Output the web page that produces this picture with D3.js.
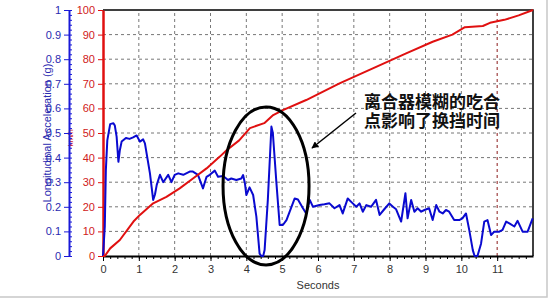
<!DOCTYPE html>
<html>
<head>
<meta charset="utf-8">
<script src="https://cdn.jsdelivr.net/npm/d3@7"></script>
<style>
  body { margin: 0; background: #fff; }
  svg { display: block; font-family: "Liberation Sans", Arial, sans-serif; }
</style>
</head>
<body>
<div id="chart"></div>
<script>
// speed (km/h) over time (s)
const speedT   = [0, 0.05, 0.2, 0.47, 0.85, 1.03, 1.4, 1.77, 2.14, 2.52, 2.89, 3.26, 3.45, 3.8, 4.1, 4.5, 4.75, 5.02, 5.67, 6.6, 7.53, 8.46, 9.2, 9.75, 10.1, 10.6, 10.8, 11.2, 11.6, 12];
const speedKmh = [0, 0, 3.1, 6.5, 14, 16.7, 21.4, 24, 27.5, 31.6, 35.6, 40.4, 43, 47, 52, 54, 57.3, 59.3, 63.4, 70.2, 76.3, 82.4, 87.1, 90, 93, 93.5, 94.8, 96, 97.8, 100];

// longitudinal acceleration (g) over time (s)
const accT = [0, 0.05, 0.08, 0.12, 0.2, 0.29, 0.33, 0.38, 0.43, 0.47, 0.52, 0.64, 0.74, 0.84, 0.94, 1.03, 1.12, 1.17, 1.31, 1.4, 1.45, 1.5, 1.59, 1.68, 1.82, 1.91, 2.0, 2.1, 2.24, 2.42, 2.51, 2.65, 2.79, 2.89, 2.98, 3.12, 3.21, 3.35, 3.49, 3.58, 3.72, 3.86, 3.91, 3.96, 4.0, 4.09, 4.19, 4.28, 4.37, 4.42, 4.47, 4.51, 4.6, 4.7, 4.74, 4.84, 4.93, 5.02, 5.12, 5.26, 5.35, 5.44, 5.58, 5.67, 5.77, 5.86, 6.04, 6.18, 6.32, 6.46, 6.6, 6.69, 6.83, 6.97, 7.07, 7.16, 7.25, 7.35, 7.48, 7.62, 7.72, 7.85, 7.99, 8.09, 8.18, 8.32, 8.44, 8.5, 8.6, 8.69, 8.78, 8.88, 8.97, 9.1, 9.2, 9.3, 9.39, 9.48, 9.57, 9.66, 9.8, 9.94, 10.03, 10.13, 10.22, 10.32, 10.37, 10.45, 10.55, 10.64, 10.73, 10.83, 10.92, 11.06, 11.15, 11.25, 11.34, 11.48, 11.57, 11.71, 11.85, 11.99];
const accG = [0, 0.12, 0.35, 0.47, 0.536, 0.54, 0.53, 0.485, 0.383, 0.43, 0.465, 0.48, 0.476, 0.482, 0.49, 0.465, 0.474, 0.458, 0.336, 0.228, 0.25, 0.289, 0.33, 0.3, 0.33, 0.3, 0.33, 0.336, 0.33, 0.343, 0.343, 0.33, 0.275, 0.322, 0.33, 0.347, 0.322, 0.325, 0.309, 0.315, 0.309, 0.315, 0.329, 0.296, 0.248, 0.279, 0.248, 0.16, 0.01, 0, 0, 0.024, 0.228, 0.526, 0.5, 0.296, 0.126, 0.126, 0.146, 0.2, 0.234, 0.23, 0.194, 0.173, 0.228, 0.2, 0.207, 0.21, 0.214, 0.194, 0.207, 0.173, 0.234, 0.214, 0.2, 0.214, 0.18, 0.207, 0.2, 0.228, 0.167, 0.19, 0.214, 0.2, 0.19, 0.14, 0.255, 0.153, 0.228, 0.18, 0.194, 0.18, 0.187, 0.194, 0.146, 0.207, 0.18, 0.173, 0.187, 0.18, 0.146, 0.146, 0.153, 0.173, 0.106, 0.024, 0, 0, 0.05, 0.14, 0.146, 0.085, 0.099, 0.099, 0.106, 0.14, 0.133, 0.12, 0.143, 0.099, 0.099, 0.153];

const xTicks = d3.range(0, 12, 1);
const speedTicks = d3.range(0, 101, 10);
const accTicks = d3.range(0, 11).map(d => d / 10);

const noteLines = ["离合器模糊的吃合", "点影响了换挡时间"];

const width = 550, height = 300;
const margin = { top: 10, right: 17, bottom: 44, left: 103 };
const innerWidth = width - margin.left - margin.right;
const innerHeight = height - margin.top - margin.bottom;

const svg = d3.select("#chart")
  .append("svg")
    .attr("width", width)
    .attr("height", height);

// outer frame
svg.append("path")
  .attr("d", `M547,0V297H0`)
  .attr("fill", "none")
  .attr("stroke", "#c8c8c8")
  .attr("stroke-width", 1.5);

const xScale = d3.scaleLinear().domain([0, 12]).range([margin.left, margin.left + innerWidth]);
const ySpeed = d3.scaleLinear().domain([0, 100]).range([margin.top + innerHeight, margin.top]);
const yAcc = d3.scaleLinear().domain([0, 1]).range([margin.top + innerHeight, margin.top]);

// grid
svg.append("g")
  .selectAll("line")
  .data(speedTicks.filter(d => d > 0 && d < 100))
  .join("line")
    .attr("x1", xScale(0)).attr("x2", xScale(12))
    .attr("y1", d => ySpeed(d)).attr("y2", d => ySpeed(d))
    .attr("stroke", "#777")
    .attr("stroke-dasharray", "3,3");

svg.append("g")
  .selectAll("line")
  .data(xTicks.filter(d => d > 0))
  .join("line")
    .attr("x1", d => xScale(d)).attr("x2", d => xScale(d))
    .attr("y1", ySpeed(0)).attr("y2", ySpeed(100))
    .attr("stroke", d => d === 11 ? "#8b1a1a" : "#777")
    .attr("stroke-dasharray", "3,3");

// plot border (top, right)
svg.append("path")
  .attr("d", `M${xScale(0)},${ySpeed(100)}H${xScale(12)}V${ySpeed(0)}`)
  .attr("fill", "none")
  .attr("stroke", "#000")
  .attr("stroke-width", 1.5);

// bottom axis
const bottomAxis = d3.axisBottom(xScale)
  .tickValues(xTicks)
  .tickSize(5)
  .tickSizeOuter(0)
  .tickPadding(4);

const xg = svg.append("g")
  .attr("transform", `translate(0, ${ySpeed(0)})`)
  .call(bottomAxis);
xg.select(".domain").attr("stroke", "#000").attr("stroke-width", 2);
xg.selectAll(".tick text").attr("font-size", 11).attr("fill", "#333");

svg.append("g")
  .attr("transform", `translate(0, ${ySpeed(0)})`)
  .call(d3.axisBottom(xScale).tickValues(d3.range(0, 12, 0.2)).tickSize(3).tickFormat(""))
  .call(g => g.select(".domain").remove());

svg.append("text")
  .attr("x", xScale(6))
  .attr("y", 289)
  .attr("text-anchor", "middle")
  .attr("font-size", 11)
  .attr("fill", "#333")
  .text("Seconds");

// red speed axis
const redAxis = d3.axisLeft(ySpeed)
  .tickValues(speedTicks)
  .tickSize(5)
  .tickSizeOuter(0)
  .tickPadding(3);

const rg = svg.append("g")
  .attr("transform", `translate(${xScale(0)}, 0)`)
  .call(redAxis);
rg.select(".domain").attr("stroke", "#e01010").attr("stroke-width", 2.5);
rg.selectAll(".tick line").attr("stroke", "#e01010");
rg.selectAll(".tick text").attr("font-size", 11).attr("fill", "#d02020");

svg.append("text")
  .attr("transform", `translate(73, ${ySpeed(48)}) rotate(-90)`)
  .attr("text-anchor", "middle")
  .attr("font-size", 8)
  .attr("fill", "#d02020")
  .text("km/h");

// blue acceleration axis
const blueX = 69;
const blueAxis = d3.axisLeft(yAcc)
  .tickValues(accTicks)
  .tickFormat(d => d === 0 ? "0" : d === 1 ? "1" : d3.format(".1f")(d))
  .tickSize(5)
  .tickSizeOuter(0)
  .tickPadding(3);

const bg = svg.append("g")
  .attr("transform", `translate(${blueX}, 0)`)
  .call(blueAxis);
bg.select(".domain").attr("stroke", "#1a1ad8").attr("stroke-width", 2);
bg.selectAll(".tick line").attr("stroke", "#1a1ad8");
bg.selectAll(".tick text").attr("font-size", 11).attr("fill", "#2a2ab0");

svg.append("g")
  .attr("transform", `translate(${blueX}, 0)`)
  .call(d3.axisRight(yAcc).tickValues(d3.range(0, 1.001, 0.02)).tickSize(3).tickFormat(""))
  .call(g => g.select(".domain").remove())
  .call(g => g.selectAll("line").attr("stroke", "#1a1ad8"));

svg.append("text")
  .attr("transform", `translate(51, ${yAcc(0.5)}) rotate(-90)`)
  .attr("text-anchor", "middle")
  .attr("font-size", 11)
  .attr("fill", "#2a2ab0")
  .text("Longitudinal Acceleration (g)");

// series
const speedLine = d3.line()
  .x((d, i) => xScale(speedT[i]))
  .y(d => ySpeed(d));

const accLine = d3.line()
  .x((d, i) => xScale(accT[i]))
  .y(d => yAcc(d));

svg.append("path")
  .datum(accG)
  .attr("d", accLine)
  .attr("fill", "none")
  .attr("stroke", "#0a0ad0")
  .attr("stroke-width", 2)
  .attr("stroke-linejoin", "round");

svg.append("path")
  .datum(speedKmh)
  .attr("d", speedLine)
  .attr("fill", "none")
  .attr("stroke", "#e01010")
  .attr("stroke-width", 2)
  .attr("stroke-linejoin", "round");

// annotation
svg.append("ellipse")
  .attr("cx", xScale(4.55))
  .attr("cy", ySpeed(28.5))
  .attr("rx", 43)
  .attr("ry", 79)
  .attr("fill", "none")
  .attr("stroke", "#000")
  .attr("stroke-width", 3);

svg.append("defs").append("marker")
  .attr("id", "arrow")
  .attr("viewBox", "0 0 10 10")
  .attr("refX", 9).attr("refY", 5)
  .attr("markerWidth", 7).attr("markerHeight", 7)
  .attr("markerUnits", "userSpaceOnUse")
  .attr("orient", "auto")
  .append("path")
    .attr("d", "M0,0L10,5L0,10z")
    .attr("fill", "#000");

svg.append("line")
  .attr("x1", 356).attr("y1", 113)
  .attr("x2", 312).attr("y2", 148)
  .attr("stroke", "#000")
  .attr("stroke-width", 1.5)
  .attr("marker-end", "url(#arrow)");

svg.append("text")
  .attr("x", 432)
  .attr("y", 108)
  .attr("text-anchor", "middle")
  .attr("font-family", "'Noto Sans CJK SC', sans-serif")
  .attr("font-weight", "bold")
  .attr("font-size", 17)
  .attr("fill", "#111")
  .selectAll("tspan")
  .data(noteLines)
  .join("tspan")
    .attr("x", 432)
    .attr("dy", (d, i) => i === 0 ? 0 : 19)
    .text(d => d);
</script>
</body>
</html>
